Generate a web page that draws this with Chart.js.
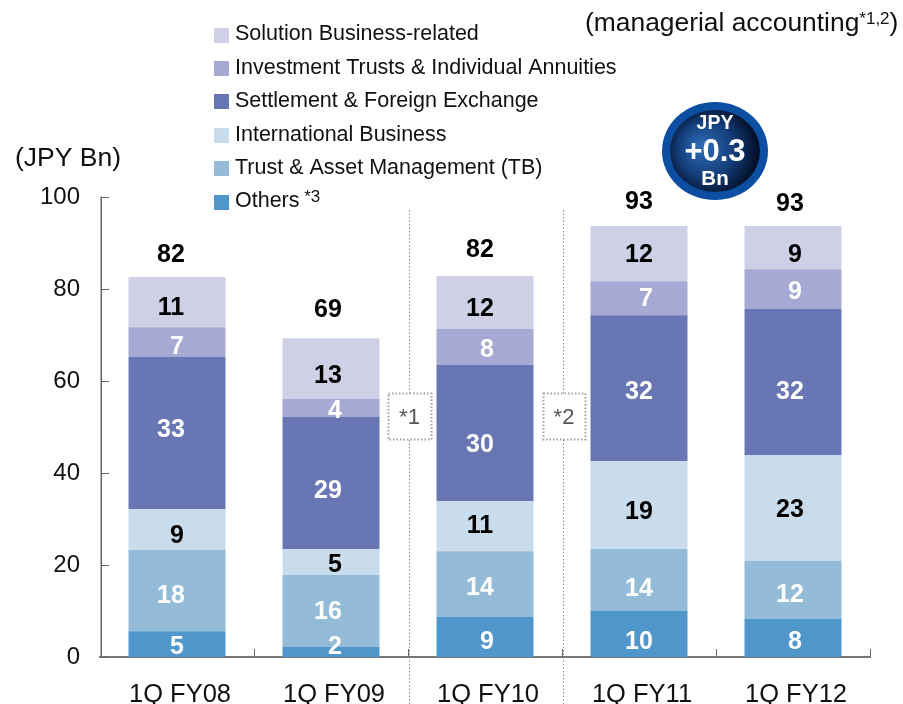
<!DOCTYPE html>
<html><head><meta charset="utf-8">
<script src="https://cdn.jsdelivr.net/npm/chart.js@4"></script>
<style>html,body{margin:0;padding:0;background:#fff}canvas{display:block}</style>
</head><body><canvas id="c" width="903" height="704"></canvas>
<script>
const categories = ['1Q FY08','1Q FY09','1Q FY10','1Q FY11','1Q FY12'];
const others      = [5.6, 2.2, 8.7, 10.0, 8.3];
const trust       = [17.7, 15.6, 14.3, 13.5, 12.6];
const international = [8.9, 5.7, 10.9, 19.1, 23.0];
const settlement  = [33.0, 28.7, 29.6, 31.7, 31.8];
const investment  = [6.5, 3.9, 7.8, 7.4, 8.6];
const solution    = [10.9, 13.2, 11.5, 12.0, 9.4];
const othersLabels = ['5','2','9','10','8'];
const trustLabels = ['18','16','14','14','12'];
const internationalLabels = ['9','5','11','19','23'];
const settlementLabels = ['33','29','30','32','32'];
const investmentLabels = ['7','4','8','7','9'];
const solutionLabels = ['11','13','12','12','9'];
const totalLabels = ['82','69','82','93','93'];
const FONT = '"Liberation Sans", Arial, sans-serif';
const series = [
 {label:'Others', sup:' *3', data:others, labels:othersLabels, backgroundColor:'#4F96CB', labelColor:'#fff'},
 {label:'Trust & Asset Management (TB)', data:trust, labels:trustLabels, backgroundColor:'#94BCD9', labelColor:'#fff'},
 {label:'International Business', data:international, labels:internationalLabels, backgroundColor:'#C9DCEC', labelColor:'#000'},
 {label:'Settlement & Foreign Exchange', data:settlement, labels:settlementLabels, backgroundColor:'#6876B4', labelColor:'#fff'},
 {label:'Investment Trusts & Individual Annuities', data:investment, labels:investmentLabels, backgroundColor:'#A5A9D3', labelColor:'#fff'},
 {label:'Solution Business-related', data:solution, labels:solutionLabels, backgroundColor:'#CFD0E6', labelColor:'#000'}
];
// small manual nudges of the value labels, as placed in the original slide
const nudgeY = [[2,3,-1,-1,-1],[5,0,3,8,4],[6,2,-1,6,1],[-4,7,11,3,9],[4,2,2,0,2],[5,7,6,1,7]];
const nudgeTotalY = [3,-5,-1,1,3];
const nudgeX = [-6,-3,-5,0,-3];
const nudgeSingleX = [6,7,7,7,5];
const overlay = {
 id:'overlay',
 afterDatasetsDraw(chart){
  const {ctx, scales:{x,y}} = chart;
  ctx.save();
  // axis line and inward ticks
  ctx.strokeStyle='#666'; ctx.lineWidth=1.5;
  ctx.beginPath();ctx.moveTo(x.left+1.25,y.top-.5);ctx.lineTo(x.left+1.25,y.bottom);ctx.stroke();
  ctx.lineWidth=1;
  y.ticks.forEach(t=>{const p=Math.round(y.getPixelForValue(t.value))+.5;ctx.beginPath();ctx.moveTo(x.left+1,p);ctx.lineTo(x.left+9,p);ctx.stroke();});
  for(let i=1;i<=categories.length;i++){const p=Math.round(x.left+i*x.width/categories.length)+.5;ctx.beginPath();ctx.moveTo(p,y.bottom);ctx.lineTo(p,y.bottom-8);ctx.stroke();}
  // segment labels
  ctx.textAlign='center';ctx.textBaseline='middle';ctx.font='bold 25px '+FONT;
  chart.data.datasets.forEach((ds,di)=>{
   chart.getDatasetMeta(di).data.forEach((b,i)=>{
    ctx.fillStyle=ds.labelColor;
    let py=(b.y+b.base)/2;
    if(di===0) py=Math.max(py,y.bottom-15);
    if(i===1&&di===0) py=y.bottom-14;
    const t=ds.labels[i];
    ctx.fillText(t,b.x+nudgeX[i]+(t.length===1?nudgeSingleX[i]:0),py+1+nudgeY[di][i]);
   });
  });
  // totals
  ctx.fillStyle='#000';
  const top=chart.getDatasetMeta(chart.data.datasets.length-1).data;
  top.forEach((b,i)=>ctx.fillText(totalLabels[i],b.x+nudgeX[i],b.y-25+nudgeTotalY[i]+(i===1?2:0)));
  // dotted separators
  ctx.strokeStyle='#8a8a8a';ctx.lineWidth=1;ctx.setLineDash([1.5,2]);
  [[409,388,431,'*1'],[563,543,585,'*2']].forEach(([lx,l,r,t])=>{
   ctx.beginPath();ctx.moveTo(lx+.5,210);ctx.lineTo(lx+.5,393);ctx.moveTo(lx+.5,440);ctx.lineTo(lx+.5,704);ctx.stroke();
   ctx.lineWidth=2;ctx.strokeStyle='#a0a0a0';ctx.strokeRect(l+.5,393.5,r-l,46);ctx.lineWidth=1;ctx.strokeStyle='#8a8a8a';
   ctx.fillStyle='#555';ctx.font='22px '+FONT;ctx.textAlign='center';ctx.fillText(t,(l+r)/2,418);
  });
  ctx.setLineDash([]);
  // legend
  ctx.textAlign='left';
  const rows=[...chart.data.datasets].reverse();
  rows.forEach((ds,i)=>{
   const cy=34.5+i*33.4;
   ctx.fillStyle=ds.backgroundColor;ctx.fillRect(214,Math.round(cy-7),15,15);
   ctx.fillStyle='#111';ctx.font='21.5px '+FONT;ctx.textBaseline='middle';
   ctx.fillText(ds.label,235,cy);
   if(ds.sup){const w=ctx.measureText(ds.label).width;ctx.font='17px '+FONT;ctx.fillText(ds.sup,235+w,cy-4);}
  });
  // unit and note
  ctx.fillStyle='#111';ctx.font='26.5px '+FONT;ctx.textAlign='left';
  ctx.fillText('(JPY Bn)',15,159);
  ctx.font='26.4px '+FONT;
  const note='(managerial accounting';ctx.fillText(note,585,23.5);
  const nw=ctx.measureText(note).width;
  ctx.font='17px '+FONT;ctx.fillText('*1,2',585+nw,19);
  const sw=ctx.measureText('*1,2').width;
  ctx.font='26.4px '+FONT;ctx.fillText(')',585+nw+sw,23.5);
  // badge
  const bx=715,by=151;
  ctx.beginPath();ctx.ellipse(bx,by,53,49,0,0,2*Math.PI);ctx.fillStyle='#0B4EA2';ctx.fill();
  const g=ctx.createRadialGradient(bx-14,by-4,4,bx-4,by,50);
  g.addColorStop(0,'#2A68B2');g.addColorStop(.5,'#153F7C');g.addColorStop(1,'#010A1E');
  ctx.beginPath();ctx.ellipse(bx,by,45,41,0,0,2*Math.PI);ctx.fillStyle=g;ctx.fill();
  ctx.fillStyle='#fff';ctx.textAlign='center';
  ctx.font='bold 19.5px '+FONT;ctx.fillText('JPY',bx,124);
  ctx.font='bold 31px '+FONT;ctx.fillText('+0.3',bx,152);
  ctx.font='bold 20.5px '+FONT;ctx.fillText('Bn',bx,179);
  ctx.restore();
 }
};
new Chart(document.getElementById('c'),{
 type:'bar',
 data:{labels:categories,datasets:series.map(s=>({...s,barPercentage:.63,categoryPercentage:1,borderWidth:0}))},
 options:{
  responsive:false,animation:false,
  layout:{padding:{top:197,right:33,left:0,bottom:0}},
  plugins:{legend:{display:false},tooltip:{enabled:false}},
  scales:{
   x:{stacked:true,afterFit(s){s.height=47;},
      grid:{display:false},border:{color:'#777',width:2},
      ticks:{color:'#111',font:{family:FONT,size:25.5},padding:15,maxRotation:0,labelOffset:3}},
   y:{stacked:true,min:0,max:100,afterFit(s){s.width=100;},
      grid:{display:false,drawTicks:false},border:{display:false},
      ticks:{stepSize:20,color:'#111',font:{family:FONT,size:24},padding:20}}
  }
 },
 plugins:[overlay]
});
</script></body></html>
